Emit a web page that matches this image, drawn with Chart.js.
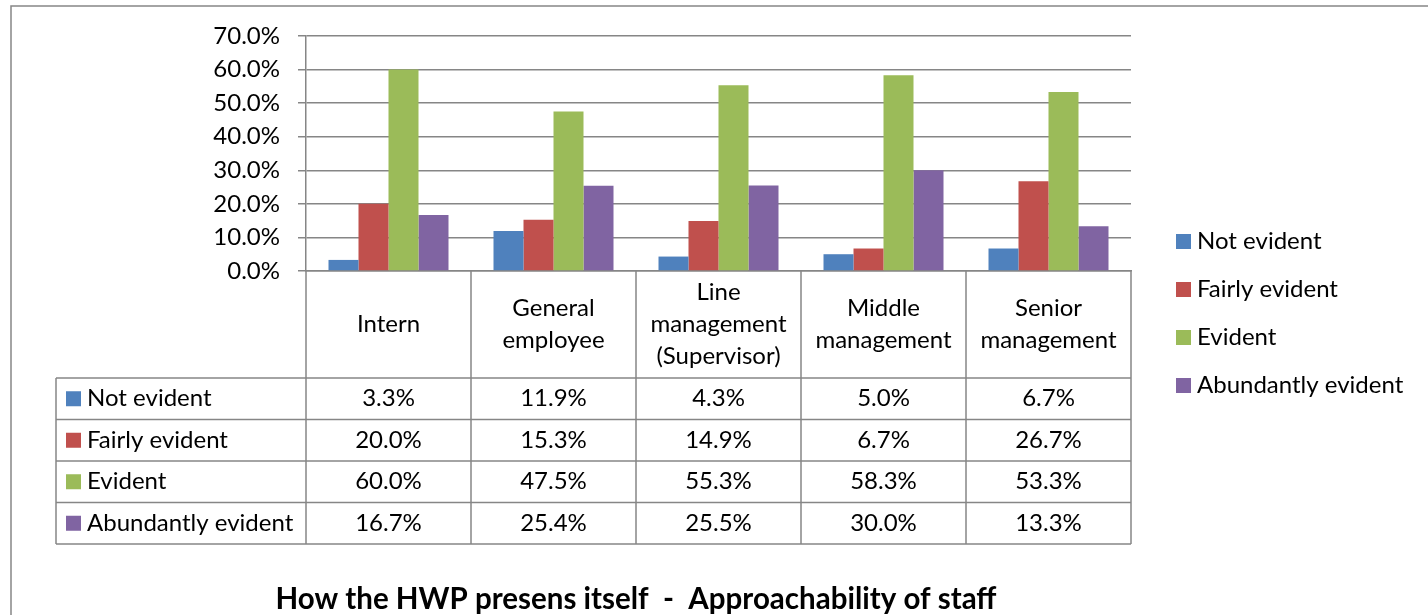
<!DOCTYPE html>
<html>
<head>
<meta charset="utf-8">
<script src="https://cdn.jsdelivr.net/npm/chart.js@4"></script>
<style>
  html, body { margin: 0; padding: 0; background: #fff; }
  canvas { display: block; }
</style>
</head>
<body>
<canvas id="staffChart" width="1428" height="615"></canvas>
<script>
// categories (multi-line header labels in the data table)
const categories = [
    ['Intern'],
    ['General', 'employee'],
    ['Line', 'management', '(Supervisor)'],
    ['Middle', 'management'],
    ['Senior', 'management']
];

const seriesNames = ['Not evident', 'Fairly evident', 'Evident', 'Abundantly evident'];
const seriesColors = ['#4F81BD', '#C0504D', '#9BBB59', '#8064A2'];

// values in percent
const notEvident        = [3.3, 11.9, 4.3, 5.0, 6.7];
const fairlyEvident     = [20.0, 15.3, 14.9, 6.7, 26.7];
const evident           = [60.0, 47.5, 55.3, 58.3, 53.3];
const abundantlyEvident = [16.7, 25.4, 25.5, 30.0, 13.3];

const yTicks = [0, 10, 20, 30, 40, 50, 60, 70];
const chartTitle = 'How the HWP presens itself  -  Approachability of staff';

const lineColor = '#868686';
const fontFamily = 'Lato, "Open Sans", sans-serif';
const fontSize = 24;
const titleSize = 29.5;

const seriesValues = [notEvident, fairlyEvident, evident, abundantlyEvident];

// draws the data table under the axis, the legend on the right and the title
const tablePlugin = {
    id: 'dataTable',
    afterDraw(chart) {
        const ctx = chart.ctx;
        const area = chart.chartArea;
        const xs = chart.scales.x;
        const n = categories.length;
        const colW = (area.right - area.left) / n;
        const headerH = 107;
        const rowH = 41.5;
        const tableLeft = 56;
        const headerBottom = area.bottom + headerH;
        const tableBottom = headerBottom + rowH * seriesNames.length;

        ctx.save();
        ctx.strokeStyle = lineColor;
        ctx.lineWidth = 1.5;

        // outer chart frame
        ctx.strokeRect(11, 6, chart.width + 20, chart.height + 20);

        // vertical lines
        ctx.beginPath();
        for (let i = 0; i <= n; i++) {
            const x = area.left + i * colW;
            ctx.moveTo(x, area.bottom);
            ctx.lineTo(x, tableBottom);
        }
        ctx.moveTo(tableLeft, headerBottom);
        ctx.lineTo(tableLeft, tableBottom);
        // horizontal lines
        for (let r = 0; r <= seriesNames.length; r++) {
            const y = headerBottom + r * rowH;
            ctx.moveTo(tableLeft, y);
            ctx.lineTo(area.right, y);
        }
        ctx.stroke();

        ctx.fillStyle = '#000';
        ctx.font = fontSize + 'px ' + fontFamily;
        ctx.textBaseline = 'middle';
        ctx.textAlign = 'center';

        // category headers
        const lineH = 32;
        categories.forEach((lines, i) => {
            const cx = xs.getPixelForValue(i);
            const cy = area.bottom + headerH / 2;
            const y0 = cy - (lines.length - 1) * lineH / 2;
            lines.forEach((t, k) => ctx.fillText(t, cx, y0 + k * lineH));
        });

        // rows
        seriesNames.forEach((name, r) => {
            const cy = headerBottom + r * rowH + rowH / 2;
            ctx.fillStyle = seriesColors[r];
            ctx.fillRect(66, cy - 7.5, 15, 15);
            ctx.fillStyle = '#000';
            ctx.textAlign = 'left';
            ctx.fillText(name, 87, cy);
            ctx.textAlign = 'center';
            seriesValues[r].forEach((v, i) => {
                ctx.fillText(v.toFixed(1) + '%', xs.getPixelForValue(i), cy);
            });
        });

        // legend
        chart.data.datasets.forEach((ds, k) => {
            const cy = 241.5 + k * 48;
            ctx.fillStyle = ds.backgroundColor;
            ctx.fillRect(1176, cy - 7.5, 15, 15);
            ctx.fillStyle = '#000';
            ctx.textAlign = 'left';
            ctx.fillText(ds.label, 1197, cy);
        });

        // title
        ctx.font = 'bold ' + titleSize + 'px ' + fontFamily;
        ctx.textAlign = 'center';
        ctx.fillText(chartTitle, 636, 599);
        ctx.restore();
    }
};

new Chart(document.getElementById('staffChart'), {
    type: 'bar',
    data: {
        labels: categories.map(c => c.join(' ')),
        datasets: seriesNames.map((name, k) => ({
            label: name,
            data: seriesValues[k],
            backgroundColor: seriesColors[k],
            borderWidth: 0,
            categoryPercentage: 120 / 165,
            barPercentage: 1
        }))
    },
    options: {
        responsive: false,
        devicePixelRatio: 1,
        animation: false,
        layout: { padding: { left: 0, top: 36, right: 297, bottom: 344 } },
        plugins: {
            legend: { display: false },
            title: { display: false },
            tooltip: { enabled: false }
        },
        scales: {
            x: {
                grid: { display: false },
                ticks: { display: false },
                border: { color: lineColor, width: 1.5 },
                afterFit: s => { s.height = 0; }
            },
            y: {
                min: 0,
                max: 70,
                afterBuildTicks: s => { s.ticks = yTicks.map(v => ({ value: v })); },
                ticks: {
                    color: '#000',
                    padding: 18,
                    font: { family: fontFamily, size: fontSize },
                    callback: v => v.toFixed(1) + '%'
                },
                grid: { color: lineColor, lineWidth: 1.5, tickLength: 8 },
                border: { color: lineColor, width: 1.5 },
                afterFit: s => { s.width = 306; }
            }
        }
    },
    plugins: [tablePlugin]
});
</script>
</body>
</html>
